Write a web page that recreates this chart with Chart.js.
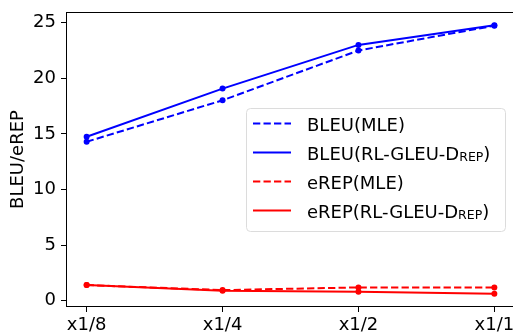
<!DOCTYPE html>
<html>
<head>
<meta charset="utf-8">
<script src="https://cdn.jsdelivr.net/npm/chart.js@4/dist/chart.umd.min.js"></script>
<style>
  html, body { margin: 0; padding: 0; background: #fff; overflow: hidden; }
  #wrap { width: 520px; height: 334px; position: relative; }
</style>
</head>
<body>
<div id="wrap"><canvas id="chart"></canvas></div>
<script>
// Datos
const categories = ['x1/8', 'x1/4', 'x1/2', 'x1/1'];
const bleuMLE = [14.29, 18.02, 22.5, 24.73];
const bleuRL = [14.74, 19.07, 23.0, 24.76];
const erepMLE = [1.40, 0.95, 1.19, 1.19];
const erepRL = [1.40, 0.90, 0.81, 0.63];
const yTicks = [0, 5, 10, 15, 20, 25];

// Etiquetas de leyenda: [texto, subíndice, resto]
const legendLabels = [
    ['BLEU(MLE)', '', ''],
    ['BLEU(RL-GLEU-D', 'REP', ')'],
    ['eREP(MLE)', '', ''],
    ['eREP(RL-GLEU-D', 'REP', ')']
];

const FONT = '"DejaVu Sans", sans-serif';
const FS = 18;
const BLUE = '#0000ff';
const RED = '#ff0000';
const DASH = [7.3, 3.2];

const toPoints = (arr) => arr.map((v, i) => ({ x: i, y: v }));

const mkSet = (data, color, dashed, order) => ({
    data: toPoints(data),
    borderColor: color,
    backgroundColor: color,
    borderWidth: 2,
    borderDash: dashed ? DASH : [],
    pointRadius: 3,
    pointBorderWidth: 0,
    pointBackgroundColor: color,
    tension: 0,
    fill: false,
    order: order
});

// Marco completo del área (spines de matplotlib)
const frame = {
    id: 'frame',
    afterDraw(chart) {
        const { left, right, top, bottom } = chart.chartArea;
        const c = chart.ctx;
        c.save();
        c.strokeStyle = '#000';
        c.lineWidth = 1;
        c.strokeRect(left + 0.5, top + 0.5, right - left - 1, bottom - top - 1);
        c.restore();
    }
};

// Leyenda con subíndices
const legendBox = {
    id: 'legendBox',
    afterDraw(chart) {
        const c = chart.ctx;
        const bx = 246, by = 108, bw = 259, bh = 123, r = 4;
        c.save();
        c.beginPath();
        c.roundRect(bx + 0.5, by + 0.5, bw, bh, r);
        c.fillStyle = 'rgba(255,255,255,0.8)';
        c.fill();
        c.strokeStyle = '#dcdcdc';
        c.lineWidth = 1;
        c.stroke();

        const rows = [123.5, 152.5, 181.5, 210.5];
        chart.data.datasets.forEach((ds, i) => {
            const y = rows[i];
            c.beginPath();
            c.setLineDash(ds.borderDash);
            c.strokeStyle = ds.borderColor;
            c.lineWidth = 2;
            c.moveTo(253, y);
            c.lineTo(291, y);
            c.stroke();
            c.setLineDash([]);

            const [main, sub, rest] = legendLabels[i];
            const base = y + 7;
            let x = 307;
            c.fillStyle = '#000';
            c.textBaseline = 'alphabetic';
            c.textAlign = 'left';
            c.font = FS + 'px ' + FONT;
            c.fillText(main, x, base);
            x += c.measureText(main).width;
            if (sub) {
                c.font = '12.5px ' + FONT;
                c.fillText(sub, x, base + 1.5);
                x += c.measureText(sub).width;
                c.font = FS + 'px ' + FONT;
                c.fillText(rest, x, base);
            }
        });
        c.restore();
    }
};

new Chart(document.getElementById('chart'), {
    type: 'line',
    data: {
        datasets: [
            mkSet(bleuMLE, BLUE, true, 4),
            mkSet(bleuRL, BLUE, false, 3),
            mkSet(erepMLE, RED, true, 2),
            mkSet(erepRL, RED, false, 1)
        ]
    },
    options: {
        responsive: true,
        maintainAspectRatio: false,
        animation: false,
        layout: { padding: { left: 0, top: 12, right: 5, bottom: 0 } },
        plugins: { legend: { display: false }, tooltip: { enabled: false } },
        scales: {
            x: {
                type: 'linear',
                min: -0.152,
                max: 3.152,
                afterBuildTicks: (s) => { s.ticks = categories.map((_, i) => ({ value: i })); },
                afterFit: (s) => { s.height = 27; s.paddingLeft = 0; s.paddingRight = 0; },
                grid: { drawOnChartArea: false, tickLength: 5, color: '#000', tickWidth: 1 },
                border: { display: false },
                ticks: {
                    color: '#000',
                    font: { family: FONT, size: FS },
                    padding: 3,
                    maxRotation: 0,
                    autoSkip: false,
                    callback: (v) => categories[v]
                }
            },
            y: {
                min: -0.57,
                max: 25.96,
                afterBuildTicks: (s) => { s.ticks = yTicks.map((v) => ({ value: v })); },
                afterFit: (s) => { s.width = 66; s.paddingTop = 0; s.paddingBottom = 0; },
                grid: { drawOnChartArea: false, tickLength: 5, color: '#000', tickWidth: 1 },
                border: { display: false },
                ticks: {
                    color: '#000',
                    font: { family: FONT, size: FS },
                    padding: 5,
                    callback: (v) => String(v)
                },
                title: {
                    display: true,
                    text: 'BLEU/eREP',
                    color: '#000',
                    font: { family: FONT, size: FS },
                    padding: { top: 8, bottom: 0 }
                }
            }
        }
    },
    plugins: [frame, legendBox]
});
</script>
</body>
</html>
